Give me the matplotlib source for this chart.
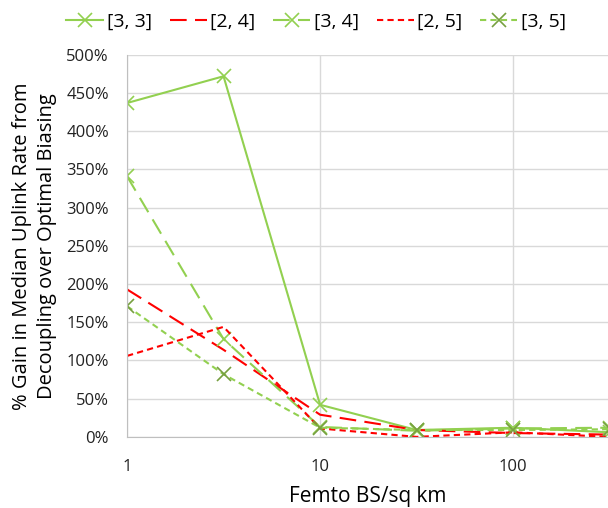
import matplotlib
matplotlib.use('Agg')
import matplotlib.pyplot as plt
from matplotlib.ticker import FuncFormatter, FixedLocator

plt.rcParams['font.family'] = ['Open Sans', 'DejaVu Sans']

# femto BS density (per sq km)
density = [1, 3.16, 10, 31.6, 100, 316]

# % gain for each [a, b] config
gain_33 = [437, 472, 42, 9, 12, 6]
gain_24 = [193, 114, 29, 9, 5, 3]
gain_34 = [341, 128, 13, 8, 11, 12]
gain_25 = [106, 144, 11, 0, 6, 0]
gain_35 = [171, 82, 12, 9, 9, 10]

GREEN = '#92D050'
DARK_GREEN = '#77A040'
RED = '#FF0000'

fig = plt.figure(figsize=(6.08, 5.08), dpi=100)
ax = fig.add_axes([0.209, 0.140, 0.791, 0.752])

ax.plot(density, gain_33, color=GREEN, lw=1.5, ls='-', marker='x', ms=10, mew=1.2, label='[3, 3]')
ax.plot(density, gain_24, color=RED, lw=1.5, ls=(0, (8, 4)), label='[2, 4]')
ax.plot(density, gain_34, color=GREEN, lw=1.5, ls=(0, (8, 4)), marker='x', ms=10, mew=1.2, label='[3, 4]')
ax.plot(density, gain_25, color=RED, lw=1.5, ls=(0, (3, 2)), label='[2, 5]')
ax.plot(density, gain_35, color=GREEN, lw=1.5, ls=(0, (3, 2)), marker='x', ms=10, mew=1.2,
        mec=DARK_GREEN, label='[3, 5]')

ax.set_xscale('log')
ax.set_xlim(1, 310)
ax.set_ylim(0, 500)
ax.xaxis.set_major_locator(FixedLocator([1, 10, 100]))
ax.xaxis.set_minor_locator(FixedLocator([]))
ax.xaxis.set_major_formatter(FuncFormatter(lambda v, p: f'{v:g}'))
ax.set_yticks(range(0, 501, 50))
ax.yaxis.set_major_formatter(FuncFormatter(lambda v, p: f'{v:.0f}%'))

ax.grid(True, color='#D9D9D9', lw=1)
ax.set_axisbelow(True)
for side in ['top', 'right']:
    ax.spines[side].set_visible(False)
for side in ['left', 'bottom']:
    ax.spines[side].set_color('#BFBFBF')
ax.tick_params(axis='y', length=0, labelsize=12, pad=13)
ax.tick_params(axis='x', length=0, labelsize=12, pad=16)
for lab in ax.get_xticklabels() + ax.get_yticklabels():
    lab.set_color('#222222')

ax.set_xlabel('Femto BS/sq km', fontsize=15, labelpad=8)
ax.set_ylabel('% Gain in Median Uplink Rate from\nDecoupling over Optimal Biasing', fontsize=14.5,
              labelpad=7, linespacing=1.3)

fig.legend(loc='upper center', bbox_to_anchor=(0.52, 1.01), ncol=5, frameon=False,
           fontsize=14, handlelength=1.9, columnspacing=0.9, handletextpad=0.2)

fig.savefig('out.png', dpi=100)
